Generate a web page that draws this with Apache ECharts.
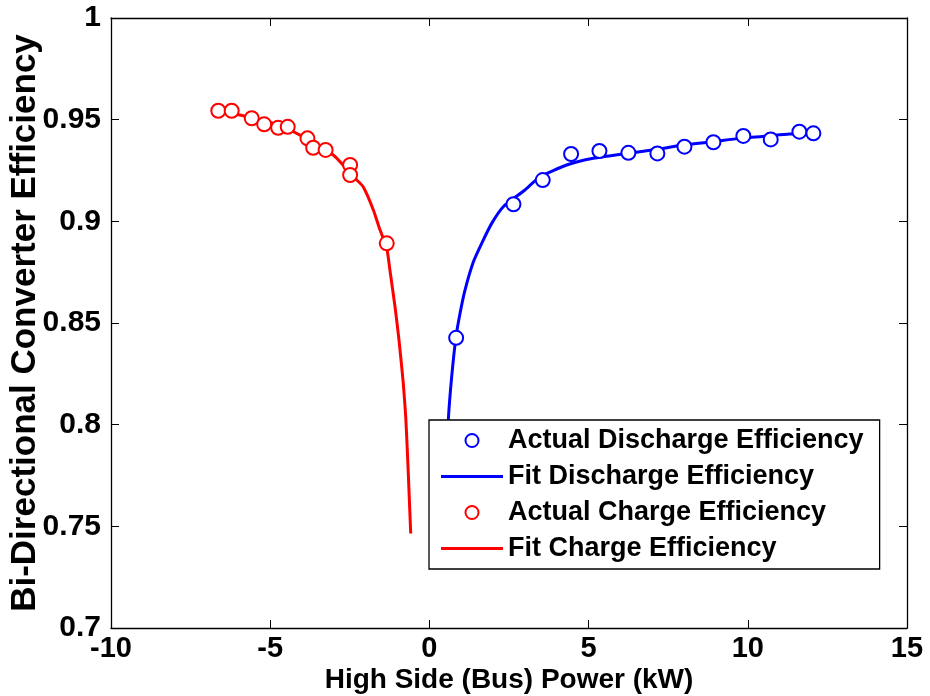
<!DOCTYPE html>
<html>
<head>
<meta charset="utf-8">
<script src="https://cdn.jsdelivr.net/npm/echarts@6/dist/echarts.min.js"></script>
<style>
html,body{margin:0;padding:0;background:#fff;}
#chart{width:930px;height:696px;}
</style>
</head>
<body>
<div id="chart"></div>
<script>
// ---- data ----
var dischargeActualX = [0.84, 2.64, 3.56, 4.45, 5.34, 6.25, 7.16, 8.01, 8.92, 9.86, 10.72, 11.62, 12.06];
var dischargeActualY = [0.8427, 0.9084, 0.9203, 0.9331, 0.9346, 0.9337, 0.9334, 0.9367, 0.9389, 0.9420, 0.9403, 0.9441, 0.9433];

var dischargeFitX = [0.56, 0.594, 0.70, 0.835, 0.961, 1.118, 1.379, 1.643, 1.957, 2.321, 3.00, 3.474, 4.312, 5.148, 6.196, 7.139, 7.974, 8.917, 9.755, 10.70, 11.31, 12.16];
var dischargeFitY = [0.785, 0.8023, 0.8236, 0.8432, 0.8547, 0.8662, 0.8800, 0.8892, 0.8990, 0.9072, 0.9154, 0.9219, 0.9277, 0.9310, 0.9334, 0.9354, 0.9375, 0.9392, 0.9408, 0.9421, 0.9429, 0.9433];

var chargeActualX = [-6.63, -6.21, -5.58, -5.19, -4.75, -4.45, -3.83, -3.65, -3.26, -2.49, -2.49, -1.34];
var chargeActualY = [0.9544, 0.9544, 0.9507, 0.9477, 0.9460, 0.9465, 0.9408, 0.9362, 0.9351, 0.9277, 0.9228, 0.8892];

var chargeFitX = [-6.63, -5.95, -4.90, -4.06, -3.02, -2.34, -2.08, -1.76, -1.55, -1.34, -1.24, -1.08, -0.955, -0.82, -0.744, -0.694, -0.65, -0.587];
var chargeFitY = [0.9544, 0.9523, 0.9482, 0.9424, 0.9326, 0.9212, 0.9170, 0.9056, 0.8957, 0.8870, 0.8760, 0.8580, 0.8416, 0.8203, 0.8039, 0.7875, 0.7711, 0.7465];

var seriesNames = ['Actual Discharge Efficiency', 'Fit Discharge Efficiency', 'Actual Charge Efficiency', 'Fit Charge Efficiency'];
var xTicks = [-10, -5, 0, 5, 10, 15];
var yTicks = [0.7, 0.75, 0.8, 0.85, 0.9, 0.95, 1];
var xTitle = 'High Side (Bus) Power (kW)';
var yTitle = 'Bi-Directional Converter Efficiency';

function zip(xs, ys) { return xs.map(function (x, i) { return [x, ys[i]]; }); }

var FONT = '"Liberation Sans", Arial, Helvetica, sans-serif';
var BLUE = '#0000FF', RED = '#FF0000';
var LINE_ICON = 'path://M0,0 L62,0 L62,3 L0,3 Z';

var chart = echarts.init(document.getElementById('chart'), null, {renderer: 'canvas'});

var baseX = {
  type: 'value', min: xTicks[0], max: xTicks[xTicks.length - 1], interval: 5,
  splitLine: {show: false},
  axisLine: {show: true, onZero: false, lineStyle: {color: '#000', width: 1.3}},
  axisTick: {show: true, inside: true, length: 8, lineStyle: {color: '#000', width: 1}}
};
var baseY = {
  type: 'value', min: yTicks[0], max: yTicks[yTicks.length - 1], interval: 0.05,
  splitLine: {show: false},
  axisLine: {show: true, onZero: false, lineStyle: {color: '#000', width: 1.3}},
  axisTick: {show: true, inside: true, length: 8, lineStyle: {color: '#000', width: 1}}
};

var option = {
  backgroundColor: '#fff',
  animation: false,
  textStyle: {fontFamily: FONT},
  grid: {left: 111, right: 23, top: 18, bottom: 68, show: false, containLabel: false, outerBoundsMode: 'none'},
  legend: {
    orient: 'vertical',
    left: 429, top: 420,
    padding: [7, 16, 7, 12],
    itemWidth: 62, itemHeight: 13, itemGap: 9,
    backgroundColor: '#fff',
    borderColor: '#000', borderWidth: 1.3,
    textStyle: {fontFamily: FONT, fontWeight: 'bold', fontSize: 27, color: '#000'},
    data: [
      {name: seriesNames[0], icon: 'emptyCircle'},
      {name: seriesNames[1], icon: LINE_ICON},
      {name: seriesNames[2], icon: 'emptyCircle'},
      {name: seriesNames[3], icon: LINE_ICON}
    ]
  },
  xAxis: [
    Object.assign({}, baseX, {
      position: 'bottom',
      name: xTitle, nameLocation: 'middle', nameGap: 38, nameMoveOverlap: false,
      nameTextStyle: {fontFamily: FONT, fontWeight: 'bold', fontSize: 28, color: '#000'},
      axisLabel: {show: true, margin: 6, fontFamily: FONT, fontWeight: 'bold', fontSize: 29, color: '#000'}
    }),
    Object.assign({}, baseX, {position: 'top', axisLabel: {show: false}})
  ],
  yAxis: [
    Object.assign({}, baseY, {
      position: 'left',
      name: yTitle, nameLocation: 'middle', nameGap: 68, nameRotate: 90, nameMoveOverlap: false,
      nameTextStyle: {fontFamily: FONT, fontWeight: 'bold', fontSize: 35, color: '#000'},
      axisLabel: {show: true, margin: 10, fontFamily: FONT, fontWeight: 'bold', fontSize: 30, color: '#000',
        formatter: function (v) { return String(parseFloat(v.toFixed(2))); }}
    }),
    Object.assign({}, baseY, {position: 'right', axisLabel: {show: false}})
  ],
  series: [
    {
      name: seriesNames[0], type: 'scatter', xAxisIndex: 0, yAxisIndex: 0,
      symbol: 'emptyCircle', symbolSize: 14,
      itemStyle: {color: BLUE, borderColor: BLUE, borderWidth: 2.8, opacity: 1},
      data: zip(dischargeActualX, dischargeActualY), z: 3
    },
    {
      name: seriesNames[1], type: 'line', xAxisIndex: 0, yAxisIndex: 0,
      symbol: 'none', smooth: 0.2,
      lineStyle: {color: BLUE, width: 3}, itemStyle: {color: BLUE},
      data: zip(dischargeFitX, dischargeFitY), z: 2
    },
    {
      name: seriesNames[2], type: 'scatter', xAxisIndex: 0, yAxisIndex: 0,
      symbol: 'emptyCircle', symbolSize: 14,
      itemStyle: {color: RED, borderColor: RED, borderWidth: 2.8, opacity: 1},
      data: zip(chargeActualX, chargeActualY), z: 3
    },
    {
      name: seriesNames[3], type: 'line', xAxisIndex: 0, yAxisIndex: 0,
      symbol: 'none', smooth: 0.2,
      lineStyle: {color: RED, width: 3}, itemStyle: {color: RED},
      data: zip(chargeFitX, chargeFitY), z: 2
    }
  ]
};
chart.setOption(option);
</script>
</body>
</html>
